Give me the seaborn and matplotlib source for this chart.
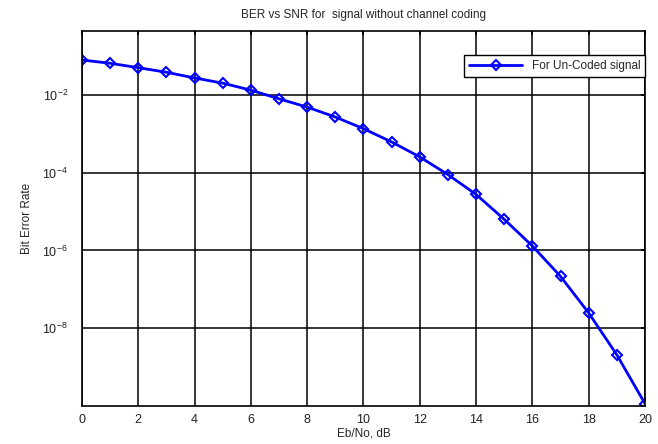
# BER vs SNR para señal sin codificación de canal
import numpy as np
import seaborn as sns
import matplotlib.pyplot as plt
from matplotlib.ticker import FixedLocator, NullLocator, FixedFormatter

ebno_db = [0, 1, 2, 3, 4, 5, 6, 7, 8, 9, 10, 11, 12, 13, 14, 15, 16, 17, 18, 19, 20]
ber = [0.0787, 0.0648, 0.050, 0.0381, 0.0272, 0.0200, 0.0132, 0.0079, 0.00484,
       0.00269, 0.00135, 6.15e-4, 2.54e-4, 8.9e-5, 2.75e-5, 6.3e-6, 1.30e-6,
       2.15e-7, 2.47e-8, 2.07e-9, 1.15e-10]
ytick_vals = [1e-8, 1e-6, 1e-4, 1e-2]
ytick_labels = [r"$10^{-8}$", r"$10^{-6}$", r"$10^{-4}$", r"$10^{-2}$"]
xtick_vals = list(range(0, 21, 2))

sns.set_theme(style="white")
plt.rcParams["font.family"] = ["Liberation Sans", "DejaVu Sans"]
plt.rcParams["mathtext.fontset"] = "custom"
plt.rcParams["mathtext.rm"] = "Liberation Sans"
plt.rcParams["mathtext.it"] = "Liberation Sans"

fig = plt.figure(figsize=(6.58, 4.44), dpi=100)
ax = fig.add_axes([0.1246, 0.0856, 0.8556, 0.8453])

sns.lineplot(x=ebno_db, y=ber, ax=ax, color="blue", linewidth=2.0,
             marker="D", markersize=5, markerfacecolor="none",
             markeredgecolor="blue", markeredgewidth=1.5,
             label="For Un-Coded signal")

ax.set_yscale("log")
ax.set_xlim(0, 20)
ax.set_ylim(1e-10, 10 ** -0.35)
ax.yaxis.set_major_locator(FixedLocator(ytick_vals))
ax.yaxis.set_major_formatter(FixedFormatter(ytick_labels))
ax.yaxis.set_minor_locator(NullLocator())
ax.set_xticks(xtick_vals)

ax.grid(True, color="black", linewidth=1.1)
ax.set_axisbelow(True)
for s in ax.spines.values():
    s.set_color("black")
    s.set_linewidth(1.2)
ax.tick_params(axis="both", direction="in", length=3, labelsize=9, color="black",
               labelcolor="#222222", top=True, right=True)
ax.tick_params(axis="y", pad=10)
ax.tick_params(axis="x", pad=6)

ax.set_title("BER vs SNR for  signal without channel coding", fontsize=8.5, pad=9)
ax.set_xlabel("Eb/No, dB", fontsize=8.5, labelpad=1)
ax.set_ylabel("Bit Error Rate", fontsize=8.5, labelpad=7)

leg = ax.legend(loc="upper right", bbox_to_anchor=(1.0, 0.935), borderaxespad=0,
                fontsize=8.5, fancybox=False, framealpha=1, handlelength=4.5)
leg.get_frame().set_edgecolor("black")
leg.get_frame().set_linewidth(1.0)

fig.savefig("out.png", dpi=100)
